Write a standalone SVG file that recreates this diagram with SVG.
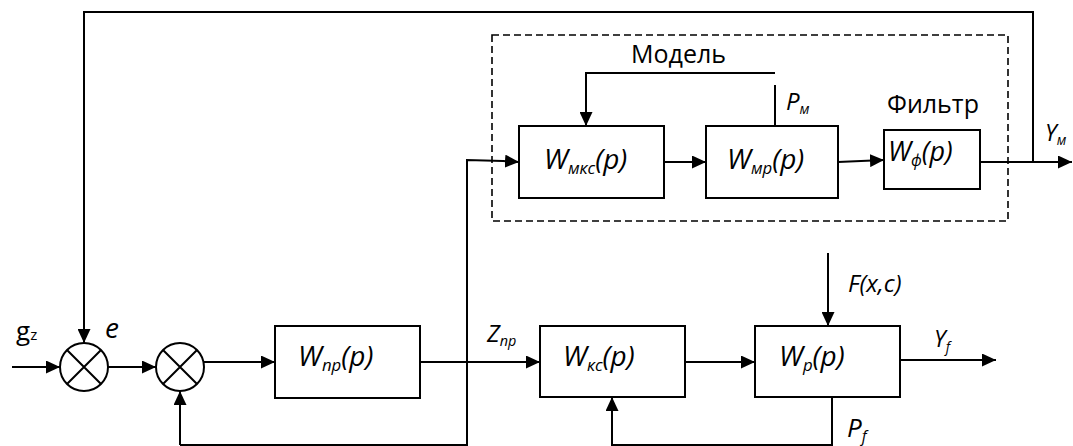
<svg xmlns="http://www.w3.org/2000/svg" width="1073" height="446" viewBox="0 0 1073 446">
<style>
  .box { fill: #fff; stroke: #000; stroke-width: 2; }
  .ln { fill: none; stroke: #000; stroke-width: 2; }
  .dash { fill: none; stroke: #000; stroke-width: 1.6; stroke-dasharray: 7 4; }
  .t { font-family: "Open Sans", "Noto Sans", "DejaVu Sans", sans-serif; fill: #000; }
  .it { font-style: italic; }
  .sub { font-size: 60%; }
</style>
<defs>
  <marker id="ah" markerWidth="15" markerHeight="13" refX="14" refY="6.5" orient="auto" markerUnits="userSpaceOnUse">
    <path d="M0,0 L14,6.5 L0,13 z" fill="#000"/>
  </marker>
</defs>

<g id="model-frame">
  <rect class="dash" x="492" y="35" width="516" height="186"/>
  <text class="t" x="631" y="63" font-size="25">Модель</text>
</g>

<g id="sum1">
  <circle class="box" cx="84" cy="367" r="24"/>
  <path class="ln" d="M67,350 L101,384 M101,350 L67,384"/>
</g>
<g id="sum2">
  <circle class="box" cx="180" cy="367" r="24"/>
  <path class="ln" d="M163,350 L197,384 M197,350 L163,384"/>
</g>

<g id="w_np">
  <rect class="box" x="275" y="326" width="145" height="72"/>
  <text class="t it" x="298" y="366" font-size="28">W<tspan class="sub" dy="5">пр</tspan><tspan dy="-5">(p)</tspan></text>
</g>
<g id="w_kc">
  <rect class="box" x="540" y="326" width="145" height="71"/>
  <text class="t it" x="563" y="366" font-size="28">W<tspan class="sub" dy="5">кс</tspan><tspan dy="-5">(p)</tspan></text>
</g>
<g id="w_p">
  <rect class="box" x="755" y="326" width="145" height="71"/>
  <text class="t it" x="779" y="366" font-size="28">W<tspan class="sub" dy="5">p</tspan><tspan dy="-5">(p)</tspan></text>
</g>
<g id="w_mks">
  <rect class="box" x="519" y="126" width="145" height="72"/>
  <text class="t it" x="544" y="169" font-size="28">W<tspan class="sub" dy="5">мкс</tspan><tspan dy="-5">(p)</tspan></text>
</g>
<g id="w_mp">
  <rect class="box" x="706" y="126" width="132" height="72"/>
  <text class="t it" x="727" y="169" font-size="28">W<tspan class="sub" dy="5">мр</tspan><tspan dy="-5">(p)</tspan></text>
</g>
<g id="w_f">
  <rect class="box" x="884" y="130" width="96" height="59"/>
  <text class="t it" x="888" y="161" font-size="27">W<tspan class="sub" dy="5">ф</tspan><tspan dy="-5">(p)</tspan></text>
  <text class="t" x="887" y="113" font-size="25">Фильтр</text>
</g>

<g id="connectors">
  <line class="ln" x1="12" y1="367" x2="60" y2="367" marker-end="url(#ah)"/>
  <polyline class="ln" points="1033,162 1033,12 84,12 84,343" marker-end="url(#ah)"/>
  <line class="ln" x1="108" y1="367" x2="156" y2="367" marker-end="url(#ah)"/>
  <line class="ln" x1="203" y1="362" x2="275" y2="362" marker-end="url(#ah)"/>
  <line class="ln" x1="420" y1="362" x2="540" y2="362" marker-end="url(#ah)"/>
  <line class="ln" x1="685" y1="362" x2="755" y2="362" marker-end="url(#ah)"/>
  <line class="ln" x1="900" y1="360" x2="996" y2="360" marker-end="url(#ah)"/>
  <line class="ln" x1="828" y1="253" x2="828" y2="326" marker-end="url(#ah)"/>
  <polyline class="ln" points="832,397 832,446"/>
  <polyline class="ln" points="832,445 612,445 612,397" marker-end="url(#ah)"/>
  <polyline class="ln" points="180,445 467,445 467,160 503,161 519,162" marker-end="url(#ah)"/>
  <polyline class="ln" points="180,445 180,391" marker-end="url(#ah)"/>
  <polyline class="ln" points="775,73 586,73 586,126" marker-end="url(#ah)"/>
  <line class="ln" x1="775" y1="85" x2="775" y2="126"/>
  <line class="ln" x1="664" y1="162" x2="706" y2="162" marker-end="url(#ah)"/>
  <line class="ln" x1="838" y1="162" x2="884" y2="160" marker-end="url(#ah)"/>
  <line class="ln" x1="980" y1="162" x2="1072" y2="162" marker-end="url(#ah)"/>
</g>

<g id="labels">
  <text class="t" x="16" y="340" font-size="26">g<tspan font-size="15" dy="0">z</tspan></text>
  <text class="t it" x="105" y="338" font-size="28">e</text>
  <text class="t it" x="487" y="342" font-size="24">Z<tspan class="sub" dy="4">пр</tspan></text>
  <text class="t it" x="848" y="292" font-size="24">F(x,c)</text>
  <text class="t it" x="934" y="347" font-size="23">Y<tspan class="sub" dy="5">f</tspan></text>
  <text class="t it" x="847" y="437" font-size="26">P<tspan class="sub" dy="5">f</tspan></text>
  <text class="t it" x="786" y="110" font-size="24">P<tspan class="sub" dy="4">м</tspan></text>
  <text class="t it" x="1045" y="141" font-size="23">Y<tspan class="sub" dy="4">м</tspan></text>
</g>
</svg>
